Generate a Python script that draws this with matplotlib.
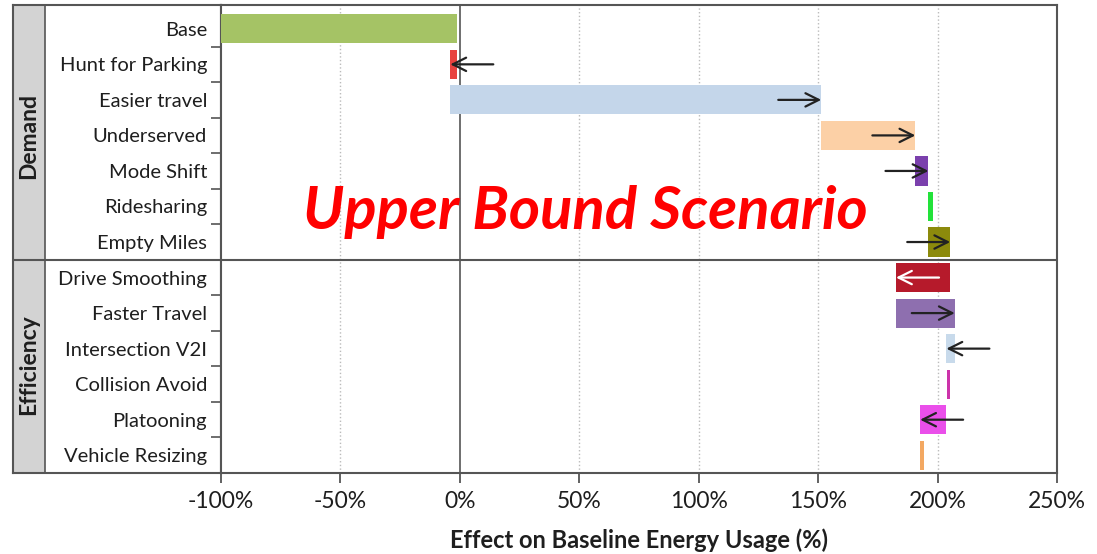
import matplotlib.pyplot as plt
from matplotlib.patches import Rectangle
import numpy as np

# Data
categories = ["Base", "Hunt for Parking", "Easier travel", "Underserved", "Mode Shift",
              "Ridesharing", "Empty Miles", "Drive Smoothing", "Faster Travel",
              "Intersection V2I", "Collision Avoid", "Platooning", "Vehicle Resizing"]
bar_start = [-100, -1, -4, 151.3, 190.7, 196.2, 195.8, 205.2, 182.6, 207.2, 205.4, 203.5, 194.5]
bar_end = [-1, -4, 151.3, 190.7, 196.2, 197.9, 205.3, 182.6, 207.2, 203.7, 203.8, 192.7, 192.8]
has_arrow = [False, True, True, True, True, False, True, True, True, True, False, True, False]
groups = ["Demand", "Efficiency"]
group_sizes = [7, 6]
xticks = [-100, -50, 0, 50, 100, 150, 200, 250]

colors = ["#a5c365", "#e8423f", "#c4d6ea", "#fcd0a6", "#7b40ad", "#22e23a", "#8c8a0c",
          "#b61a2b", "#8e6faf", "#c8daeb", "#cc33aa", "#ea4fea", "#f3a862"]
arrow_colors = ["#222222"] * 13
arrow_colors[7] = "white"
arrow_len = 18

plt.rcParams["font.family"] = ["Lato", "DejaVu Sans"]

W, H = 1097, 554
fig = plt.figure(figsize=(W / 100, H / 100), dpi=100)

x0, x1 = 221, 1057
y0, y1 = 5, 473
bottom = 1 - y1 / H
height = (y1 - y0) / H
ylim = (12.5, -0.67)
frame_col = "#555555"
text_col = "#1e1e1e"

# label panel with grey group band
lab = fig.add_axes([13 / W, bottom, (x0 - 13) / W, height])
lab.set_xlim(0, 1)
lab.set_ylim(*ylim)
lab.set_xticks([])
lab.set_yticks([])
for s in lab.spines.values():
    s.set_color(frame_col)
    s.set_linewidth(1.5)
band_w = (45 - 13) / (x0 - 13)
lab.add_patch(Rectangle((0, ylim[1]), band_w, ylim[0] - ylim[1], facecolor="#d3d3d3",
                        edgecolor="none"))
lab.axvline(band_w, color=frame_col, lw=1.2)
split = group_sizes[0] - 0.5
lab.axhline(split, color=frame_col, lw=1.5)
lab.text(band_w / 2, (ylim[1] + split) / 2 + 0.1, groups[0], rotation=90, ha="center",
         va="center", fontsize=16.5, fontweight="bold", color=text_col)
lab.text(band_w / 2, (split + ylim[0]) / 2 - 0.05, groups[1], rotation=90, ha="center",
         va="center", fontsize=16.5, fontweight="bold", color=text_col)

# main axes
ax = fig.add_axes([x0 / W, bottom, (x1 - x0) / W, height])
y = np.arange(len(categories))
left = np.minimum(bar_start, bar_end)
width = np.abs(np.array(bar_end) - np.array(bar_start))
ax.barh(y, width, left=left, height=0.82, color=colors, zorder=3)

for i in range(len(categories)):
    if has_arrow[i]:
        d = np.sign(bar_end[i] - bar_start[i])
        ax.annotate("", xy=(bar_end[i], i), xytext=(bar_end[i] - d * arrow_len, i),
                    arrowprops=dict(arrowstyle="->", color=arrow_colors[i], lw=1.6,
                                    mutation_scale=24, shrinkA=0, shrinkB=0),
                    zorder=4)

ax.set_xlim(xticks[0], xticks[-1])
ax.set_ylim(*ylim)
ax.set_xticks(xticks)
ax.set_xticklabels([f"{t}%" for t in xticks], fontsize=16.5, color=text_col)
ax.set_yticks(y)
ax.set_yticklabels(categories, fontsize=14.5, color=text_col)
ax.tick_params(axis="y", length=0, pad=10)
ax.tick_params(axis="x", length=7, width=1.3, color=frame_col, pad=6)
minor = [k + 0.5 for k in range(len(categories) - 1) if k + 0.5 != split]
ax.set_yticks(minor, minor=True)
ax.tick_params(axis="y", which="minor", length=7, width=1.2, color=frame_col)

for t in xticks[1:-1]:
    if t == 0:
        ax.axvline(t, color=frame_col, lw=1.2, zorder=2)
    else:
        ax.axvline(t, color="#bbbbbb", lw=1, ls=":", zorder=1)
ax.axhline(split, color=frame_col, lw=1.5, zorder=2)
for s in ax.spines.values():
    s.set_color(frame_col)
    s.set_linewidth(1.5)

ax.set_xlabel("Effect on Baseline Energy Usage (%)", fontsize=17, fontweight="bold",
              color=text_col, labelpad=12)

fig.text(585 / W, 1 - 212 / H, "Upper Bound Scenario", color="red", fontsize=43,
         fontweight="bold", fontstyle="italic", ha="center", va="center")

fig.savefig("out.png", dpi=100)
